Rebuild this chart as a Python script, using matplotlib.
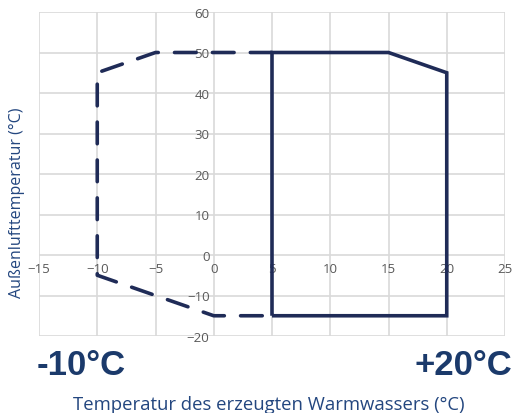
import matplotlib.pyplot as plt

plt.rcParams['font.family'] = ['Open Sans', 'DejaVu Sans']

# operating envelope (water temp, outdoor air temp)
solid_x = [5, 5, 15, 20, 20, 5]
solid_y = [-15, 50, 50, 45, -15, -15]
dash_x = [5, -5, -10, -10, 0, 5]
dash_y = [50, 50, 45, -5, -15, -15]

x_ticks = [-15, -10, -5, 0, 5, 10, 15, 20, 25]
y_ticks = [-20, -10, 0, 10, 20, 30, 40, 50, 60]

navy = '#1f2b57'
blue = '#23467f'

fig = plt.figure(figsize=(5.15, 4.14), dpi=100)
ax = fig.add_axes([39/515, 1-337/414, (505-39)/515, (337-13)/414])

ax.plot(solid_x, solid_y, color=navy, lw=2.6, solid_joinstyle='miter',
        solid_capstyle='butt', zorder=3)
ax.plot(dash_x, dash_y, color=navy, lw=2.6, dashes=(6, 4.5),
        dash_capstyle='round', zorder=3)

ax.set_xlim(-15, 25)
ax.set_ylim(-20, 60)
ax.set_xticks(x_ticks)
ax.set_yticks(y_ticks)
ax.grid(True, color='#d9d9d9', lw=1.2, zorder=0)
ax.set_axisbelow(True)

for s in ['top', 'right']:
    ax.spines[s].set_visible(False)
ax.spines['left'].set_position(('data', 0))
ax.spines['bottom'].set_position(('data', 0))
ax.spines['left'].set_visible(False)
ax.spines['bottom'].set_visible(False)
ax.tick_params(length=0, labelsize=9.5, labelcolor='#595959')
ax.tick_params(axis='y', pad=3)
ax.tick_params(axis='x', pad=5)

fig.text(17/515, 1-203/414, 'Außenlufttemperatur (°C)', rotation=90,
         ha='center', va='center', color=blue, fontsize=11.5)
fig.text(269/515, 1-405/414, 'Temperatur des erzeugten Warmwassers (°C)',
         ha='center', va='center', color=blue, fontsize=13.3)
big = dict(color='#1b3a6b', fontsize=25, fontweight='bold',
           family=['Liberation Sans', 'DejaVu Sans'], va='baseline')
fig.text(37/515, 1-375/414, '-10°C', ha='left', **big)
fig.text(512/515, 1-375/414, '+20°C', ha='right', **big)

fig.savefig('out.png', dpi=100)
